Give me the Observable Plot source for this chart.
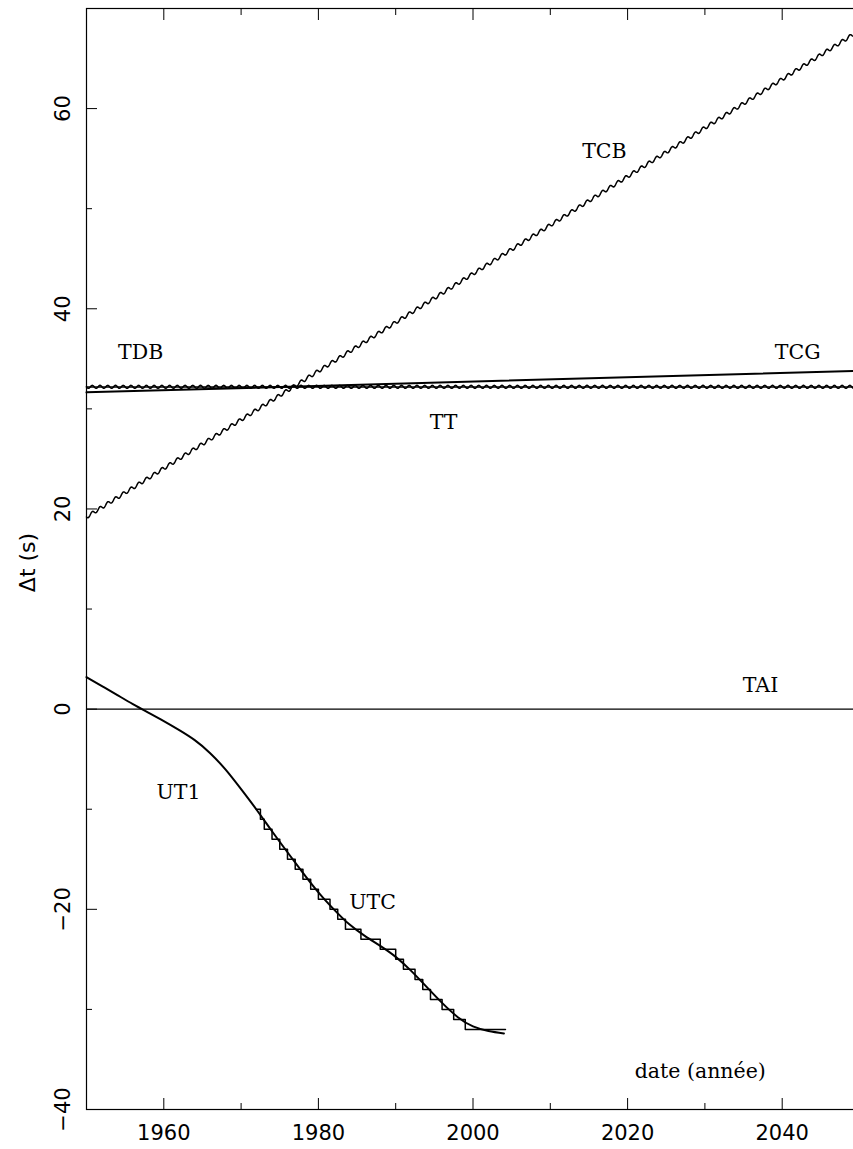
<!DOCTYPE html>
<html><head><meta charset="utf-8">
<script src="https://cdn.jsdelivr.net/npm/d3@7"></script>
<script src="https://cdn.jsdelivr.net/npm/@observablehq/plot@0.6"></script>
<style>
html,body{margin:0;padding:0;background:#fff;overflow:hidden;}
#chart svg{display:block;max-width:none !important;}
</style>
</head><body><div id="chart"></div>
<script>
// ---- data ----
const ut1Years  = [1950, 1952, 1954, 1956, 1958, 1960, 1962, 1964, 1966, 1968, 1970, 1972, 1974, 1976, 1978, 1980, 1982, 1984, 1986, 1988, 1990, 1992, 1994, 1996, 1998, 2000, 2002, 2004];
const ut1Values = [3.2, 2.3, 1.4, 0.5, -0.35, -1.2, -2.1, -3.1, -4.4, -6.05, -8.0, -10.05, -12.2, -14.3, -16.35, -18.3, -20.0, -21.5, -22.65, -23.65, -24.75, -26.15, -27.75, -29.35, -30.75, -31.7, -32.15, -32.4];
const utcYears  = [1972.0, 1972.5, 1973.0, 1974.0, 1975.0, 1976.0, 1977.0, 1978.0, 1979.0, 1980.0, 1981.5, 1982.5, 1983.5, 1985.5, 1988.0, 1990.0, 1991.0, 1992.5, 1993.5, 1994.5, 1996.0, 1997.5, 1999.0, 2004.2];
const utcValues = [-10, -11, -12, -13, -14, -15, -16, -17, -18, -19, -20, -21, -22, -23, -24, -25, -26, -27, -28, -29, -30, -31, -32, -32];
const tcbYears = [1950, 2050], tcbValues = [19.2, 67.8];
const tdbYears = [1950, 2050], tdbValues = [32.2, 32.2];
const ttYears  = [1950, 2050], ttValues  = [32.18, 32.18];
const tcgYears = [1950, 2050], tcgValues = [31.65, 33.8];
const taiYears = [1950, 2050], taiValues = [0, 0];

const labelNames  = ["TCB", "TDB", "TCG", "TT", "TAI", "UT1", "UTC", "date (année)"];
const labelYears  = [2017.0, 1957.0, 2042.0, 1996.2, 2037.2, 1961.9, 1987.0, 2029.4];
const labelValues = [55.75, 35.6, 35.65, 28.65, 2.4, -8.35, -19.35, -36.2];

const xMajorTicks = [1960, 1980, 2000, 2020, 2040];
const xMinorTicks = [1970, 1990, 2010, 2030];
const yMajorTicks = [-40, -20, 0, 20, 40, 60];
const yMinorTicks = [-30, -10, 10, 30, 50];
const yAxisLabel = "Δt (s)";

// ---- layout ----
const W = 860, H = 1149, mL = 86, mR = 1, mT = 8, mB = 40;
const xDomain = [1950, 2050], yDomain = [-40, 70];
const yearPx = (W - mL - mR) / (xDomain[1] - xDomain[0]);

// wavy line style (annual wiggle drawn as a stroke style)
function wavy(period, amp) {
  return function(context) {
    let pts = [];
    return {
      areaStart() {}, areaEnd() {},
      lineStart() { pts = []; },
      point(x, y) { pts.push([+x, +y]); },
      lineEnd() {
        let first = true;
        for (let i = 0; i < pts.length - 1; ++i) {
          const [x0, y0] = pts[i], [x1, y1] = pts[i + 1];
          const n = Math.max(1, Math.ceil(Math.abs(x1 - x0) / 0.5));
          for (let j = i ? 1 : 0; j <= n; ++j) {
            const t = j / n, x = x0 + (x1 - x0) * t;
            const y = y0 + (y1 - y0) * t + amp * Math.sin(2 * Math.PI * (x - x0) / period);
            if (first) { context.moveTo(x, y); first = false; } else context.lineTo(x, y);
          }
        }
      }
    };
  };
}

const pairs = (xs, ys) => xs.map((x, i) => ({year: x, value: ys[i]}));
const fmtY = d => d < 0 ? "\u2212" + Math.abs(d) : String(d);
const sans = "DejaVu Sans", serif = "DejaVu Serif";

const chart = Plot.plot({
  width: W, height: H,
  marginLeft: mL, marginRight: mR, marginTop: mT, marginBottom: mB,
  x: {domain: xDomain},
  y: {domain: yDomain},
  style: {background: "white", color: "black", fontFamily: sans},
  marks: [
    // ticks (inward)
    Plot.axisX({anchor: "bottom", ticks: xMajorTicks, tickSize: 11, dy: -11, fill: "none", label: null}),
    Plot.axisX({anchor: "bottom", ticks: xMinorTicks, tickSize: 6, dy: -6, fill: "none", label: null}),
    Plot.axisX({anchor: "top", ticks: xMajorTicks, tickSize: 11, dy: 11, fill: "none", label: null}),
    Plot.axisX({anchor: "top", ticks: xMinorTicks, tickSize: 6, dy: 6, fill: "none", label: null}),
    Plot.axisY({anchor: "left", ticks: yMajorTicks, tickSize: 11, dx: 11, fill: "none", label: null}),
    Plot.axisY({anchor: "left", ticks: yMinorTicks, tickSize: 6, dx: 6, fill: "none", label: null}),
    // tick labels
    Plot.axisX({anchor: "bottom", ticks: xMajorTicks, tickSize: 0, tickPadding: 16, tickFormat: d => String(d),
                fontSize: 21, fontFamily: sans, label: null}),
    Plot.text(yMajorTicks, {y: d => d, frameAnchor: "left", text: fmtY, rotate: -90, textAnchor: "middle",
                lineAnchor: "middle", dx: -23.5, fontSize: 21, fontFamily: sans, fill: "black"}),
    Plot.text([yAxisLabel], {frameAnchor: "left", rotate: -90, textAnchor: "middle", lineAnchor: "middle",
                dx: -59, dy: 3.5, fontSize: 22, fontFamily: sans, fill: "black"}),
    Plot.frame({stroke: "black", strokeWidth: 1.2}),
    // series
    Plot.line(pairs(taiYears, taiValues), {x: "year", y: "value", stroke: "black", strokeWidth: 1.2}),
    Plot.line(pairs(tcgYears, tcgValues), {x: "year", y: "value", stroke: "black", strokeWidth: 2}),
    Plot.line(pairs(ttYears, ttValues), {x: "year", y: "value", stroke: "black", strokeWidth: 1.6}),
    Plot.line(pairs(tdbYears, tdbValues), {x: "year", y: "value", stroke: "black", strokeWidth: 1.5, curve: wavy(yearPx, 1.5)}),
    Plot.line(pairs(tcbYears, tcbValues), {x: "year", y: "value", stroke: "black", strokeWidth: 1.5, curve: wavy(yearPx, 1.8)}),
    Plot.line(pairs(utcYears, utcValues), {x: "year", y: "value", stroke: "black", strokeWidth: 1.5, curve: "step-after"}),
    Plot.line(pairs(ut1Years, ut1Values), {x: "year", y: "value", stroke: "black", strokeWidth: 2, curve: "natural"}),
    // labels
    Plot.text(labelNames, {x: (d, i) => labelYears[i], y: (d, i) => labelValues[i], text: d => d,
                lineAnchor: "middle", textAnchor: "middle", fontSize: 20.5, fontFamily: serif, fill: "black"})
  ]
});
chart.style.maxWidth = "none";
document.getElementById("chart").append(chart);
</script>
</body></html>
